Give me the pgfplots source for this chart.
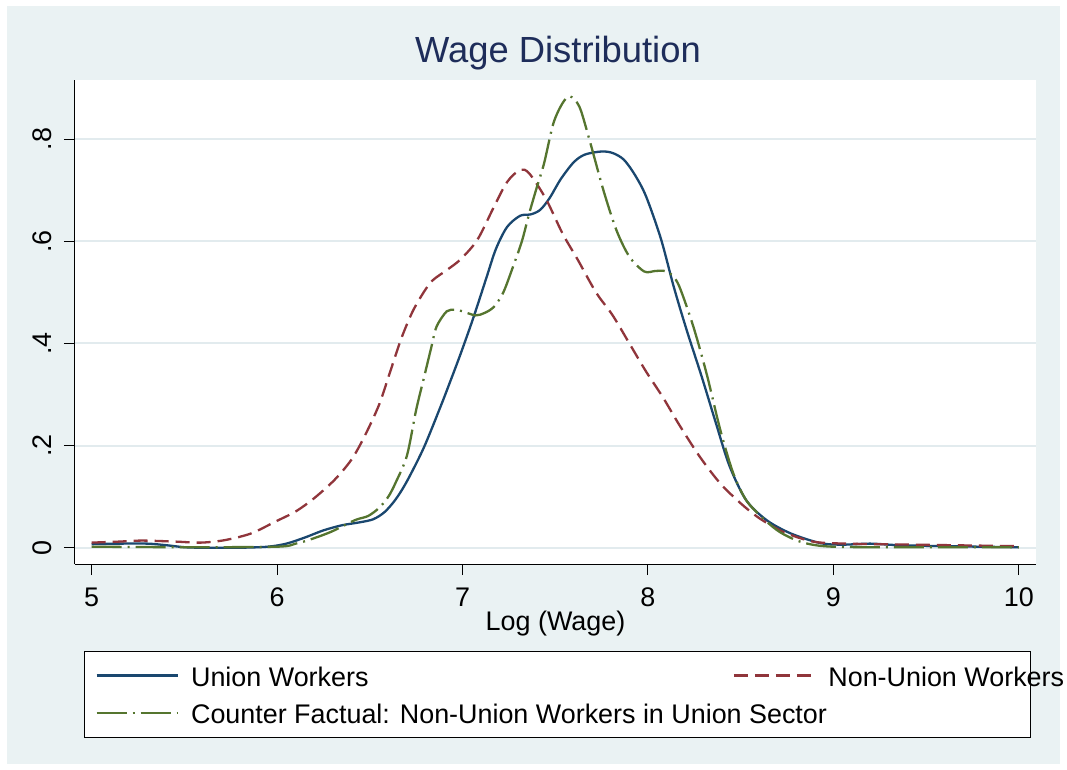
\documentclass[border=0pt]{standalone}
\usepackage{fontspec}
\setmainfont{Liberation Sans}
\usepackage{pgfplots}
\pgfplotsset{compat=1.18}
\definecolor{bgc}{RGB}{234,242,243}
\definecolor{gridc}{RGB}{226,235,238}
\definecolor{titlec}{RGB}{30,45,90}
\definecolor{navyc}{RGB}{26,71,111}
\definecolor{maroonc}{RGB}{144,53,59}
\definecolor{greenc}{RGB}{85,117,47}
\begin{document}
\begin{tikzpicture}
\fill[white] (0bp,0bp) rectangle (1067bp,-770bp);
\fill[bgc] (7bp,-6bp) rectangle (1060bp,-764bp);
\begin{axis}[
  at={(75bp,-564bp)}, anchor=south west,
  scale only axis, width=961bp, height=484bp,
  xmin=4.910, xmax=10.093, ymin=-0.0319, ymax=0.916,
  axis background/.style={fill=white},
  axis x line*=bottom, axis y line*=left,
  axis line style={black, line width=1bp},
  tick align=outside, major tick length=11bp,
  every tick/.style={black, line width=1bp},
  xtick={5,6,7,8,9,10}, xticklabels={5,6,7,8,9,10},
  ytick={0,0.2,0.4,0.6,0.8}, yticklabels={0,.2,.4,.6,.8},
  ymajorgrids, major grid style={gridc, line width=2bp},
  tick label style={font=\fontsize{27}{30}\selectfont},
  xticklabel style={anchor=north, inner sep=0pt, yshift=-13bp},
  yticklabel style={xshift=-12bp, rotate=90, anchor=south, inner sep=0pt},
  title={Wage Distribution},
  title style={at={(axis description cs:0.5026,1.0242)}, anchor=base, inner sep=0pt, font=\fontsize{36.5}{40}\selectfont, text=titlec},
  xlabel={Log (Wage)},
  xlabel style={at={(axis description cs:0.5,-0.1384)}, anchor=base, inner sep=0pt, font=\fontsize{27}{30}\selectfont},
  legend columns=2,
  legend image code/.code={\draw[#1] (0bp,0bp) -- (81bp,0bp);},
  legend style={
    at={(axis description cs:0.00937,-0.1798)}, anchor=north west,
    draw=black, line width=1bp, fill=white,
    inner xsep=11bp, inner ysep=7.4bp,
    font=\fontsize{27}{30}\selectfont,
    row sep=4.3bp,
    cells={anchor=west},
    nodes={inner sep=0pt, text height=27.3bp, text depth=6bp},
    /tikz/every odd column/.style={column sep=12.3bp},
    /tikz/every even column/.style={column sep=0bp},
  },
]
\addplot[navyc, line width=2.3bp, smooth, tension=0.5] coordinates {
(5.00,0.007) (5.15,0.008) (5.30,0.008) (5.40,0.005) (5.50,0.001) (5.60,0.000)
(5.80,0.000) (5.95,0.002) (6.05,0.008) (6.15,0.020) (6.25,0.034) (6.35,0.044)
(6.45,0.050) (6.52,0.056) (6.58,0.070) (6.64,0.095) (6.70,0.130) (6.79,0.195)
(6.88,0.275) (6.93,0.322) (6.99,0.380) (7.06,0.452) (7.13,0.530) (7.18,0.585)
(7.24,0.628) (7.31,0.650) (7.37,0.653) (7.42,0.662) (7.47,0.685) (7.53,0.722)
(7.60,0.755) (7.66,0.770) (7.75,0.776) (7.81,0.773) (7.87,0.760) (7.93,0.730)
(7.99,0.688) (8.07,0.605) (8.14,0.510) (8.21,0.425) (8.29,0.335) (8.37,0.240)
(8.44,0.160) (8.53,0.093) (8.64,0.054) (8.77,0.028) (8.93,0.009) (9.05,0.006)
(9.20,0.008) (9.35,0.005) (9.60,0.003) (10.00,0.001)
};
\addlegendentry{\makebox[541.7bp][l]{Union Workers}}
\addplot[maroonc, line width=2.3bp, dash pattern=on 14bp off 7bp, smooth, tension=0.5] coordinates {
(5.00,0.010) (5.15,0.012) (5.27,0.014) (5.45,0.012) (5.59,0.010) (5.72,0.015)
(5.86,0.028) (5.99,0.051) (6.10,0.071) (6.20,0.097) (6.31,0.133) (6.40,0.172)
(6.47,0.217) (6.55,0.280) (6.61,0.345) (6.67,0.410) (6.73,0.462) (6.79,0.500)
(6.84,0.524) (6.92,0.545) (6.99,0.565) (7.08,0.603) (7.17,0.668) (7.24,0.716)
(7.31,0.740) (7.36,0.733) (7.45,0.683) (7.54,0.615) (7.62,0.565) (7.72,0.500)
(7.81,0.455) (7.90,0.400) (7.99,0.345) (8.08,0.295) (8.17,0.240) (8.28,0.178)
(8.39,0.126) (8.50,0.087) (8.60,0.058) (8.73,0.031) (8.89,0.012) (9.07,0.008)
(9.43,0.006) (10.00,0.003)
};
\addlegendentry{\makebox[191bp][l]{Non-Union Workers}}
\addplot[greenc, line width=2.3bp, dash pattern=on 30bp off 6bp on 2bp off 6bp, smooth, tension=0.5] coordinates {
(5.00,0.002) (5.50,0.001) (6.00,0.002) (6.10,0.008) (6.17,0.015) (6.29,0.031)
(6.42,0.054) (6.49,0.062) (6.55,0.078) (6.60,0.100) (6.64,0.128) (6.70,0.180)
(6.75,0.270) (6.79,0.330) (6.83,0.390) (6.86,0.433) (6.915,0.463) (6.96,0.466)
(7.00,0.463) (7.07,0.455) (7.12,0.460) (7.17,0.472) (7.22,0.500) (7.27,0.548)
(7.32,0.600) (7.36,0.655) (7.40,0.705) (7.44,0.753) (7.49,0.831) (7.54,0.871)
(7.58,0.884) (7.63,0.864) (7.68,0.805) (7.76,0.700) (7.83,0.622) (7.90,0.570)
(7.98,0.541) (8.04,0.542) (8.09,0.542) (8.13,0.534) (8.17,0.511) (8.245,0.433)
(8.317,0.340) (8.39,0.231) (8.46,0.146) (8.53,0.093) (8.62,0.058) (8.71,0.031)
(8.82,0.012) (8.95,0.003) (9.20,0.001) (10.00,0.001)
};
\addlegendentry{\makebox[541.7bp][l]{Counter Factual: Non-Union Workers in Union Sector}}
\end{axis}
\end{tikzpicture}
\end{document}
